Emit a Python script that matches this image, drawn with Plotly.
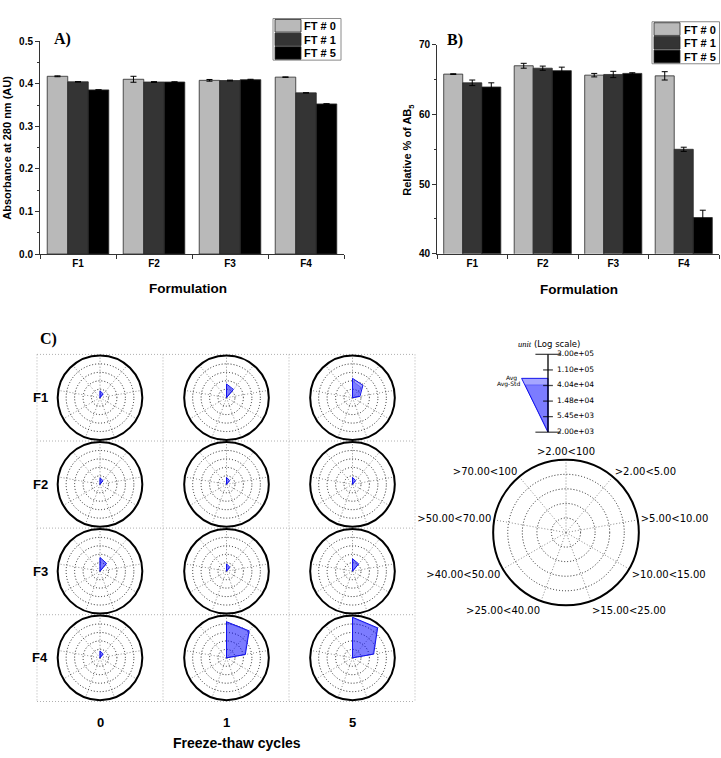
import math
import plotly.graph_objects as go

W, H = 721, 758


def px(x):
    return x / W


def py(y):
    return 1 - y / H


# ---------------- data ----------------
formulations = ["F1", "F2", "F3", "F4"]
ft_names = ["FT # 0", "FT # 1", "FT # 5"]
bar_colors = ["#b9b9b9", "#343434", "#000000"]

# Panel A: absorbance at 280 nm
abs_ft0 = [0.418, 0.411, 0.4085, 0.416]
abs_ft1 = [0.405, 0.4045, 0.408, 0.379]
abs_ft5 = [0.386, 0.4045, 0.410, 0.353]
abs_err_ft0 = [0.001, 0.007, 0.002, 0.0005]
abs_err_ft1 = [0.0005, 0.001, 0.001, 0.0]
abs_err_ft5 = [0.0, 0.0005, 0.001, 0.0005]

# Panel B: relative % of AB5
rel_ft0 = [65.8, 67.0, 65.65, 65.55]
rel_ft1 = [64.55, 66.65, 65.75, 55.0]
rel_ft5 = [63.95, 66.3, 65.9, 45.2]
rel_err_ft0 = [0.05, 0.35, 0.25, 0.6]
rel_err_ft1 = [0.4, 0.3, 0.45, 0.3]
rel_err_ft5 = [0.6, 0.5, 0.1, 1.05]

# Panel C: particle counts (log scale) per size class
size_classes = [">2.00<100", ">2.00<5.00", ">5.00<10.00", ">10.00<15.00",
                ">15.00<25.00", ">25.00<40.00", ">40.00<50.00",
                ">50.00<70.00", ">70.00<100"]
class_angles = [0, 40, 80, 120, 160, 200, 240, 280, 320]
ft_cycles = ["0", "1", "5"]

# rows: FT 0, FT 1, FT 5
f1_avg = [[4500, 3600, 2000, 2000, 2000, 2000, 2000, 2000, 2000],
          [10200, 7200, 2000, 2000, 2000, 2000, 2000, 2000, 2000],
          [19800, 13600, 4900, 2000, 2000, 2000, 2000, 2000, 2000]]
f1_avg_std = [[3800, 3100, 2000, 2000, 2000, 2000, 2000, 2000, 2000],
              [8800, 6300, 2000, 2000, 2000, 2000, 2000, 2000, 2000],
              [14500, 9800, 3900, 2000, 2000, 2000, 2000, 2000, 2000]]
f2_avg = [[4300, 3500, 2000, 2000, 2000, 2000, 2000, 2000, 2000],
          [4500, 3600, 2000, 2000, 2000, 2000, 2000, 2000, 2000],
          [4500, 3600, 2000, 2000, 2000, 2000, 2000, 2000, 2000]]
f2_avg_std = [[3700, 3000, 2000, 2000, 2000, 2000, 2000, 2000, 2000],
              [3900, 3100, 2000, 2000, 2000, 2000, 2000, 2000, 2000],
              [3900, 3100, 2000, 2000, 2000, 2000, 2000, 2000, 2000]]
f3_avg = [[10200, 6700, 2000, 2000, 2000, 2000, 2000, 2000, 2000],
          [4800, 3700, 2000, 2000, 2000, 2000, 2000, 2000, 2000],
          [8700, 6200, 2000, 2000, 2000, 2000, 2000, 2000, 2000]]
f3_avg_std = [[9000, 6000, 2000, 2000, 2000, 2000, 2000, 2000, 2000],
              [4100, 3200, 2000, 2000, 2000, 2000, 2000, 2000, 2000],
              [7600, 5500, 2000, 2000, 2000, 2000, 2000, 2000, 2000]]
f4_avg = [[4500, 3600, 2000, 2000, 2000, 2000, 2000, 2000, 2000],
          [143000, 129000, 19300, 2000, 2000, 2000, 2000, 2000, 2000],
          [244000, 205000, 25500, 2000, 2000, 2000, 2000, 2000, 2000]]
f4_avg_std = [[3900, 3100, 2000, 2000, 2000, 2000, 2000, 2000, 2000],
              [135000, 121000, 18000, 2000, 2000, 2000, 2000, 2000, 2000],
              [232000, 194000, 23500, 2000, 2000, 2000, 2000, 2000, 2000]]

scale_ticks = [300000, 110000, 40400, 14800, 5450, 2000]
scale_labels = ["3.00e+05", "1.10e+05", "4.04e+04", "1.48e+04", "5.45e+03", "2.00e+03"]
legend_avg = 64000
legend_avg_std = 42000

# ---------------- figure ----------------
fig = go.Figure()
SANS = "Liberation Sans"
SERIF = "Liberation Serif"
MPL = "DejaVu Sans"
FINE_DOT = "1px,2px"

abs_vals = [abs_ft0, abs_ft1, abs_ft5]
abs_errs = [abs_err_ft0, abs_err_ft1, abs_err_ft5]
rel_vals = [rel_ft0, rel_ft1, rel_ft5]
rel_errs = [rel_err_ft0, rel_err_ft1, rel_err_ft5]

for i in range(3):
    fig.add_trace(go.Bar(
        x=formulations, y=abs_vals[i], name=ft_names[i],
        marker=dict(color=bar_colors[i], line=dict(color="#2a2a2a", width=0.8)),
        error_y=dict(type="data", array=abs_errs[i], color="black", thickness=1, width=3),
        xaxis="x", yaxis="y", showlegend=False))
    fig.add_trace(go.Bar(
        x=formulations, y=rel_vals[i], name=ft_names[i],
        marker=dict(color=bar_colors[i], line=dict(color="#2a2a2a", width=0.8)),
        error_y=dict(type="data", array=rel_errs[i], color="black", thickness=1, width=3),
        xaxis="x2", yaxis="y2", showlegend=False))

# ---- small radar charts ----
all_avg = [f1_avg, f2_avg, f3_avg, f4_avg]
all_std = [f1_avg_std, f2_avg_std, f3_avg_std, f4_avg_std]
col_cx = [100, 226.5, 352.5]
row_cy = [398, 486, 574.3, 662.3]
R_SMALL = 43

theta_closed = class_angles + [class_angles[0]]

grid_common_radial = dict(
    type="log", range=[math.log10(2000), math.log10(300000)],
    tickvals=scale_ticks[1:5], showticklabels=False, ticks="",
    showline=False, gridcolor="#222", griddash=FINE_DOT, gridwidth=1)

layout_polars = {}
k = 0
for r, form in enumerate(formulations):
    for c in range(3):
        k += 1
        name = f"polar{k}"
        cx, cy = col_cx[c], row_cy[r]
        layout_polars[name] = dict(
            domain=dict(x=[px(cx - R_SMALL), px(cx + R_SMALL)],
                        y=[py(cy + R_SMALL), py(cy - R_SMALL)]),
            bgcolor="white",
            radialaxis=dict(grid_common_radial, angle=90),
            angularaxis=dict(
                tickmode="array", tickvals=class_angles, showticklabels=False,
                ticks="", rotation=90, direction="clockwise",
                showline=True, linecolor="black", linewidth=2,
                gridcolor="#8a8a8a", griddash=FINE_DOT, gridwidth=1),
        )
        avg = all_avg[r][c]
        std = all_std[r][c]
        fig.add_trace(go.Scatterpolar(
            r=avg + [avg[0]], theta=theta_closed, subplot=name, mode="lines",
            fill="toself", fillcolor="rgba(0,0,255,0.35)",
            line=dict(color="rgb(20,20,235)", width=1), showlegend=False))
        fig.add_trace(go.Scatterpolar(
            r=std + [std[0]], theta=theta_closed, subplot=name, mode="lines",
            fill="toself", fillcolor="rgba(0,0,255,0.25)",
            line=dict(color="rgba(20,20,235,0.6)", width=0.6), showlegend=False))

# ---- big legend radar ----
BIG_CX, BIG_CY, R_BIG = 566, 535, 74
big_name = "polar13"
layout_polars[big_name] = dict(
    domain=dict(x=[px(BIG_CX - R_BIG), px(BIG_CX + R_BIG)],
                y=[py(BIG_CY + R_BIG), py(BIG_CY - R_BIG)]),
    bgcolor="white",
    radialaxis=dict(grid_common_radial, angle=90),
    angularaxis=dict(
        tickmode="array", tickvals=class_angles, ticktext=size_classes,
        ticks="", rotation=90, direction="clockwise",
        tickfont=dict(family=MPL, size=10, color="black"),
        showline=True, linecolor="black", linewidth=2,
        gridcolor="#8a8a8a", griddash=FINE_DOT, gridwidth=1),
)
fig.add_trace(go.Scatterpolar(r=[2000], theta=[0], subplot=big_name, mode="markers",
                              marker=dict(size=1, color="rgba(0,0,0,0)"),
                              showlegend=False, hoverinfo="skip"))

# ---- log-scale key ----
fig.add_trace(go.Scatter(x=[0, -0.88, 0, 0], y=[2000, legend_avg, legend_avg, 2000],
                         xaxis="x3", yaxis="y3", mode="lines", fill="toself",
                         fillcolor="rgba(0,0,255,0.35)",
                         line=dict(color="rgb(20,20,235)", width=1), showlegend=False))
fig.add_trace(go.Scatter(x=[0, -0.76, 0, 0], y=[2000, legend_avg_std, legend_avg_std, 2000],
                         xaxis="x3", yaxis="y3", mode="lines", fill="toself",
                         fillcolor="rgba(0,0,255,0.25)",
                         line=dict(color="rgba(20,20,235,0.6)", width=0.6), showlegend=False))
fig.add_trace(go.Scatter(x=[0, 0], y=[scale_ticks[-1], scale_ticks[0]], xaxis="x3", yaxis="y3",
                         mode="lines", line=dict(color="black", width=1.3), showlegend=False,
                         cliponaxis=False))
fig.add_trace(go.Scatter(x=[0] * len(scale_ticks), y=scale_ticks, xaxis="x3", yaxis="y3",
                         mode="markers",
                         marker=dict(symbol="line-ew", size=[18, 7, 7, 7, 7, 18],
                                     line=dict(color="black", width=1.3)),
                         cliponaxis=False, showlegend=False))
fig.add_trace(go.Scatter(x=[0.3] * len(scale_ticks), y=scale_ticks, xaxis="x3", yaxis="y3",
                         mode="text", text=scale_labels, textposition="middle right",
                         textfont=dict(family=MPL, size=7.5, color="black"),
                         cliponaxis=False, showlegend=False))

# ---------------- axes ----------------
axis_font = dict(family=SANS, size=10, color="black", weight="bold")
cat_axis = dict(type="category", range=[-0.5, 3.5], showline=True, linecolor="#333",
                linewidth=1, ticks="outside", ticklen=4, tickcolor="#333",
                tickson="boundaries", tickfont=axis_font, showgrid=False, zeroline=False,
                fixedrange=True)

KEY_PAD = 0.004
fig.update_layout(
    width=W, height=H, margin=dict(l=0, r=0, t=0, b=0),
    paper_bgcolor="white", plot_bgcolor="white",
    barmode="group", bargap=0.19, bargroupgap=0,
    showlegend=False,
    xaxis=dict(cat_axis, domain=[px(40), px(344)], anchor="y"),
    yaxis=dict(domain=[py(252), py(36)], range=[0, 0.5], anchor="x",
               tickvals=[0, 0.1, 0.2, 0.3, 0.4, 0.5], tickformat=".1f",
               showline=True, linecolor="#333", linewidth=1, ticks="outside",
               ticklen=4, tickcolor="#333", tickfont=axis_font, showgrid=False,
               zeroline=False,
               minor=dict(dtick=0.05, ticks="outside", ticklen=2, tickcolor="#333")),
    xaxis2=dict(cat_axis, domain=[px(437), px(719)], anchor="y2"),
    yaxis2=dict(domain=[py(251.7), py(39.5)], range=[40, 70], anchor="x2",
                tickvals=[40, 50, 60, 70],
                showline=True, linecolor="#333", linewidth=1, ticks="outside",
                ticklen=4, tickcolor="#333", tickfont=axis_font, showgrid=False,
                zeroline=False,
                minor=dict(dtick=5, ticks="outside", ticklen=2, tickcolor="#333")),
    xaxis3=dict(domain=[px(518), px(578)], range=[-1, 1], visible=False, anchor="y3"),
    yaxis3=dict(domain=[py(433.2), py(353.8)], type="log",
                range=[math.log10(2000) - KEY_PAD, math.log10(300000) + KEY_PAD],
                visible=False, anchor="x3"),
    **layout_polars,
)

# ---------------- annotations ----------------
ann = []


def text(x, y, s, size, family=SANS, bold=True, angle=0, xanchor="center", color="black"):
    ann.append(dict(x=px(x), y=py(y), xref="paper", yref="paper", text=s,
                    showarrow=False, textangle=angle, xanchor=xanchor, yanchor="middle",
                    font=dict(family=family, size=size, color=color,
                              weight="bold" if bold else "normal")))


text(62, 34, "A)", 16, family=SERIF)
text(455, 35, "B)", 16, family=SERIF)
text(48, 338, "C)", 16, family=SERIF)
text(7, 144, "Absorbance at 280 nm (AU)", 11, angle=-90)
text(408, 146, "Relative % of AB<sub>5</sub>", 11, angle=-90)
text(187.5, 287, "Formulation", 13.5)
text(579, 288, "Formulation", 13.5)
for r, form in enumerate(formulations):
    text(40, row_cy[r], form, 13)
for c, lab in enumerate(ft_cycles):
    text(col_cx[c], 728, lab, 13)
text(236.5, 749, "Freeze-thaw cycles", 14)

# log scale key texts
text(549, 343, "<span style='font-family:Liberation Serif'><i>unit</i></span> (Log scale)",
     8.5, family=MPL, bold=False)
text(519, 378, "Avg", 6, family=MPL, bold=False, xanchor="right")
text(522, 384.5, "Avg-Std", 6, family=MPL, bold=False, xanchor="right")

# legends (drawn as guides)
shapes = []


def legend_box(x0, y0, x1, y1, sw_x0, sw_x1, row_h, txt_x):
    shapes.append(dict(type="rect", xref="paper", yref="paper",
                       x0=px(x0), x1=px(x1), y0=py(y1), y1=py(y0),
                       line=dict(color="#8a8a8a", width=1), fillcolor="white"))
    for i, nm in enumerate(ft_names):
        top = y0 + 1 + i * row_h
        shapes.append(dict(type="rect", xref="paper", yref="paper",
                           x0=px(sw_x0), x1=px(sw_x1), y0=py(top + row_h - 1), y1=py(top),
                           line=dict(color="#2a2a2a", width=0.8), fillcolor=bar_colors[i]))
        text(txt_x, top + row_h / 2, nm, 11, xanchor="left")


legend_box(273, 12.7, 341, 55, 275, 301, 13.8, 302)
legend_box(652, 16, 719.5, 58.7, 654, 680, 13.9, 682)

# dotted cell grid of panel C
grid_x = [37, 163, 289, 415]
grid_y = [354, 442, 530.5, 618.5, 706.7]
for gx in grid_x:
    shapes.append(dict(type="line", xref="paper", yref="paper", layer="below",
                       x0=px(gx), x1=px(gx), y0=py(grid_y[0]), y1=py(grid_y[-1]),
                       line=dict(color="#b0b0b0", width=1, dash=FINE_DOT)))
for gy in grid_y:
    shapes.append(dict(type="line", xref="paper", yref="paper", layer="below",
                       x0=px(grid_x[0]), x1=px(grid_x[-1]), y0=py(gy), y1=py(gy),
                       line=dict(color="#b0b0b0", width=1, dash=FINE_DOT)))

fig.update_layout(annotations=ann, shapes=shapes)
fig.write_html("out.html", config={"displayModeBar": False},
               post_script="document.body.style.margin='0';document.body.style.overflow='hidden';")
